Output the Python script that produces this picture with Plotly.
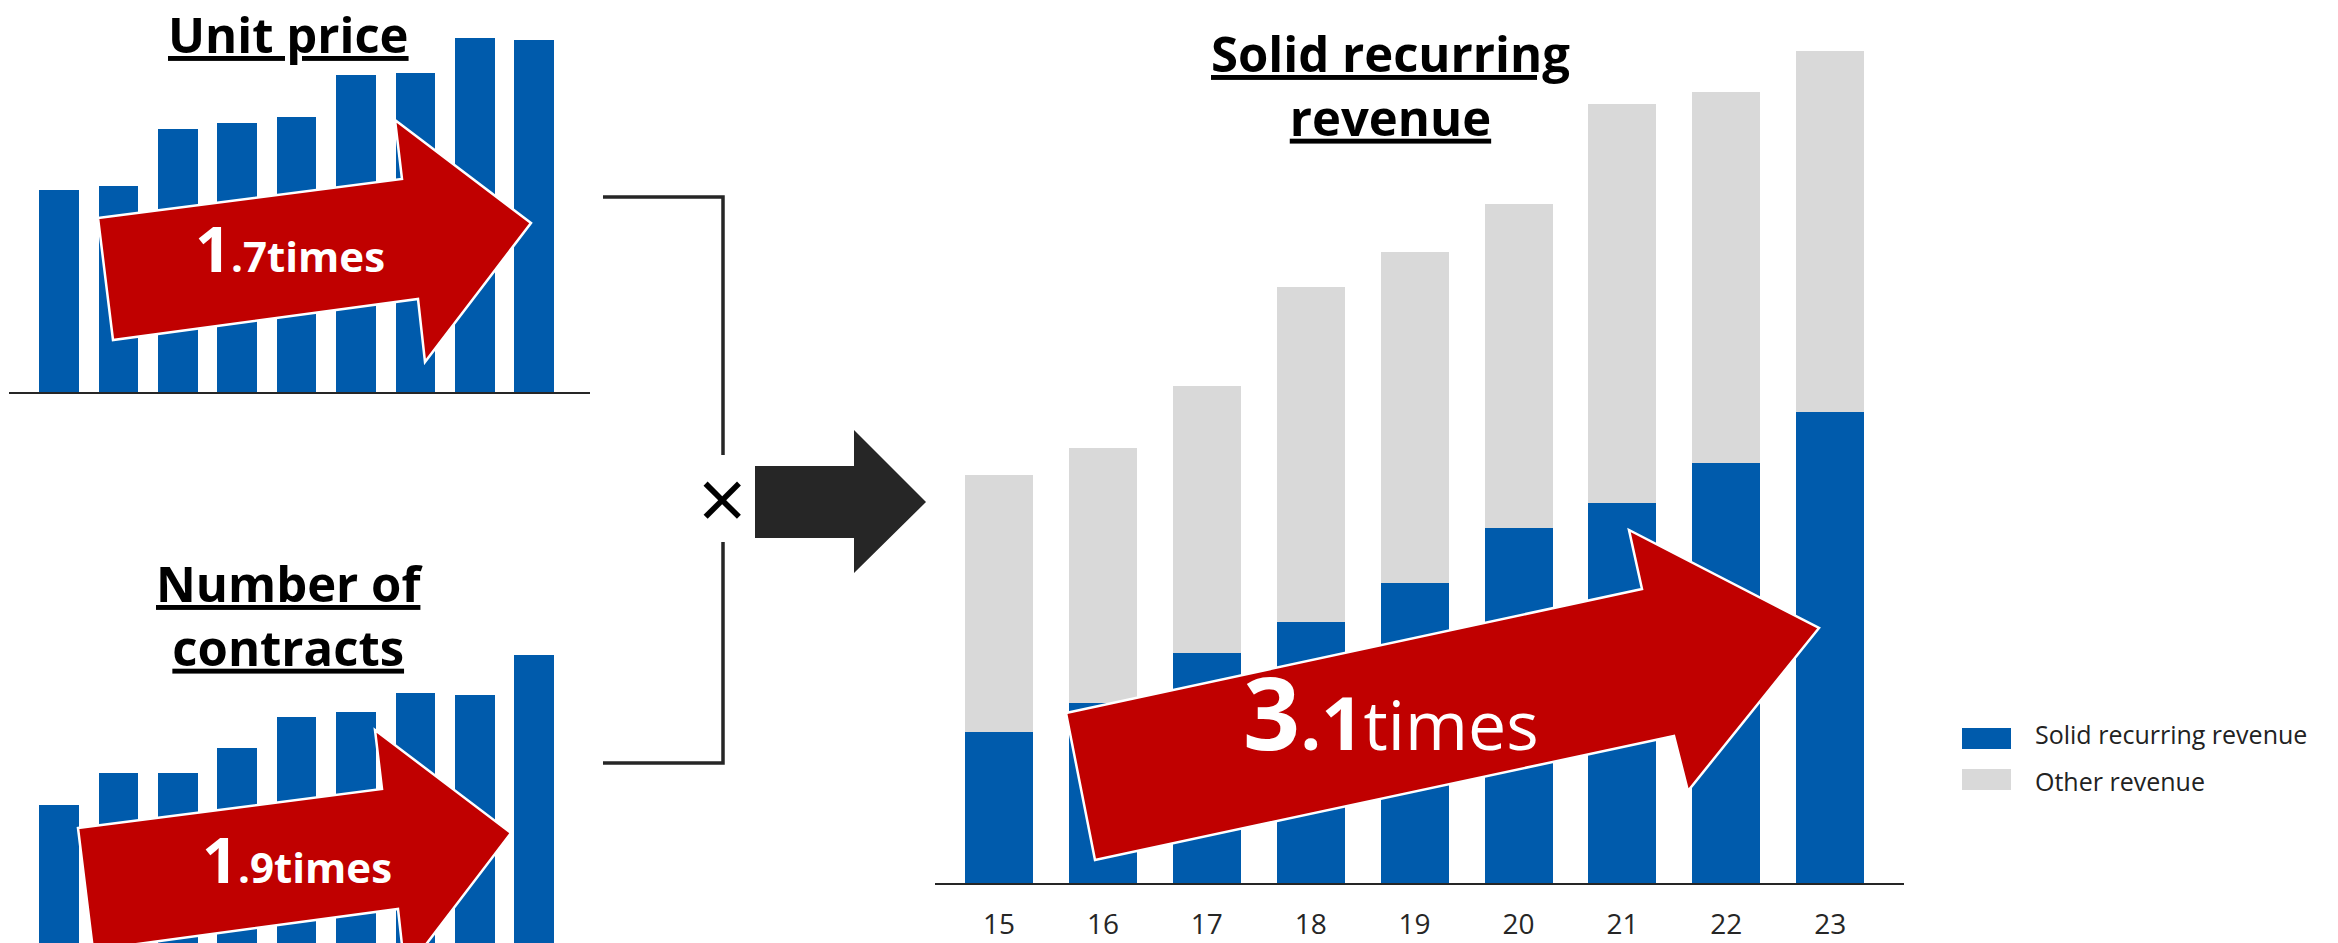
import plotly.graph_objects as go

# ---- data -------------------------------------------------------------
years = ["15", "16", "17", "18", "19", "20", "21", "22", "23"]

# index values (first year = 100)
unit_price = [100, 102, 130, 133, 136, 157, 158, 175, 174]
contracts = [100, 119, 119, 134, 153, 156, 167, 166, 190]

# revenue (index, solid recurring FY15 = 100)
solid_recurring = [100, 119, 152, 173, 199, 235, 252, 278, 312]
other_revenue = [170, 169, 177, 222, 219, 215, 264, 246, 239]

growth_labels = ["1.7", "1.9", "3.1"]

# ---- styling ------------------------------------------------------------
W, H = 2338, 943
BLUE = "#005BAC"
GREY = "#D9D9D9"
RED = "#C00000"
DARK = "#262626"
FONT = "Open Sans"


def px(x, y):
    """pixel position -> paper coordinates string"""
    return f"{x / W:.5f},{1 - y / H:.5f}"


def pxx(x):
    return x / W


def pxy(y):
    return 1 - y / H


def path(points, close=True):
    s = "M " + " L ".join(px(x, y) for x, y in points)
    return s + (" Z" if close else "")


fig = go.Figure()

# small bar chart: unit price
fig.add_trace(go.Bar(x=years, y=unit_price, marker=dict(color=BLUE, line_width=0),
                     width=0.665, xaxis="x", yaxis="y", showlegend=False))
# small bar chart: number of contracts
fig.add_trace(go.Bar(x=years, y=contracts, marker=dict(color=BLUE, line_width=0),
                     width=0.665, xaxis="x2", yaxis="y2", showlegend=False))
# stacked revenue chart
fig.add_trace(go.Bar(x=years, y=solid_recurring, name="Solid recurring revenue",
                     marker=dict(color=BLUE, line_width=0), width=0.654,
                     xaxis="x3", yaxis="y3", showlegend=False))
fig.add_trace(go.Bar(x=years, y=other_revenue, name="Other revenue",
                     marker=dict(color=GREY, line_width=0), width=0.654,
                     xaxis="x3", yaxis="y3", showlegend=False))

hidden = dict(visible=False, fixedrange=True)
fig.update_layout(
    width=W, height=H,
    margin=dict(l=0, r=0, t=0, b=0),
    paper_bgcolor="white", plot_bgcolor="white",
    barmode="stack",
    font=dict(family=FONT, color=DARK),
    xaxis=dict(domain=[pxx(9), pxx(590)], anchor="y", type="category",
               range=[-0.842, 8.94], showline=True, linecolor=DARK, linewidth=2,
               showticklabels=False, showgrid=False, zeroline=False, ticks=""),
    yaxis=dict(domain=[pxy(392), 1], anchor="x", range=[0, 194], **hidden),
    xaxis2=dict(domain=[pxx(9), pxx(590)], anchor="y2", type="category",
                range=[-0.842, 8.94], showline=False, showticklabels=False,
                showgrid=False, zeroline=False, ticks=""),
    yaxis2=dict(domain=[0, pxy(625)], anchor="x2", range=[17.4, 207.8], **hidden),
    xaxis3=dict(domain=[pxx(935), pxx(1904)], anchor="y3", type="category",
                range=[-0.616, 8.71], showline=True, linecolor=DARK, linewidth=2,
                showgrid=False, zeroline=False, ticks="", ticklabelstandoff=15,
                automargin=False, tickfont=dict(family=FONT, size=28, color=DARK)),
    yaxis3=dict(domain=[pxy(883), 1], anchor="x3", range=[0, 584.8], **hidden),
)

shapes = []

# red growth arrows
arrow_small = [(98, 218), (402, 179), (395, 120), (531, 223), (425, 362), (418, 299), (113, 340)]
arrow_small_2 = [(x - 20, y + 610) for x, y in arrow_small]
arrow_big = [(1066, 713), (1642, 589), (1629, 530), (1819, 628), (1688, 791), (1674, 736), (1095, 860)]
for pts in (arrow_small, arrow_small_2, arrow_big):
    shapes.append(dict(type="path", xref="paper", yref="paper", path=path(pts),
                       fillcolor=RED, line=dict(color="white", width=2.5), layer="above"))

# connector brackets
shapes.append(dict(type="path", xref="paper", yref="paper",
                   path=path([(603, 197), (723, 197), (723, 455)], close=False),
                   line=dict(color=DARK, width=3.5), fillcolor="rgba(0,0,0,0)"))
shapes.append(dict(type="path", xref="paper", yref="paper",
                   path=path([(723, 542), (723, 763), (603, 763)], close=False),
                   line=dict(color=DARK, width=3.5), fillcolor="rgba(0,0,0,0)"))

# black arrow
shapes.append(dict(type="path", xref="paper", yref="paper",
                   path=path([(755, 466), (854, 466), (854, 430), (926, 502),
                              (854, 573), (854, 538), (755, 538)]),
                   fillcolor=DARK, line=dict(width=0)))

# legend swatches
shapes.append(dict(type="rect", xref="paper", yref="paper",
                   x0=pxx(1962), x1=pxx(2011), y0=pxy(749), y1=pxy(728),
                   fillcolor=BLUE, line=dict(width=0)))
shapes.append(dict(type="rect", xref="paper", yref="paper",
                   x0=pxx(1962), x1=pxx(2011), y0=pxy(790), y1=pxy(769),
                   fillcolor=GREY, line=dict(width=0)))

fig.update_layout(shapes=shapes)

annotations = []
title_font = dict(family=FONT, size=49, color="black", weight="bold", lineposition="under")


def note(text, x, y, font, xanchor="center", yanchor="middle", align="center"):
    annotations.append(dict(text=text, x=pxx(x), y=pxy(y), xref="paper", yref="paper",
                            showarrow=False, font=font, xanchor=xanchor,
                            yanchor=yanchor, align=align))


note("Unit price", 288, 34, title_font)
note("Number of<br>contracts", 289, 615, title_font)
note("Solid recurring<br>revenue", 1390, 85, title_font)

# growth labels inside the arrows
a, b, c = growth_labels
small_font = dict(family=FONT, size=63, color="white")
note(f"<b>{a[0]}</b><span style='font-size:42px'><b>{a[1:]}times</b></span>",
     290, 248, small_font)
note(f"<b>{b[0]}</b><span style='font-size:42px'><b>{b[1:]}times</b></span>",
     297, 858, small_font)
note(f"<b>{c[0]}</b><span style='font-size:74px'><b>{c[1:]}</b></span>"
     f"<span style='font-size:68px'>times</span>",
     1391, 711, dict(family=FONT, size=100, color="white"))

# multiplication sign between the bracket and the arrow
note("×", 722, 497, dict(family=FONT, size=85, color="black"))

# legend labels
legend_font = dict(family=FONT, size=25, color="#222222")
note("Solid recurring revenue", 2033, 734, legend_font, xanchor="left")
note("Other revenue", 2033, 781, legend_font, xanchor="left")

fig.update_layout(annotations=annotations)

fig.write_html("out.html")
